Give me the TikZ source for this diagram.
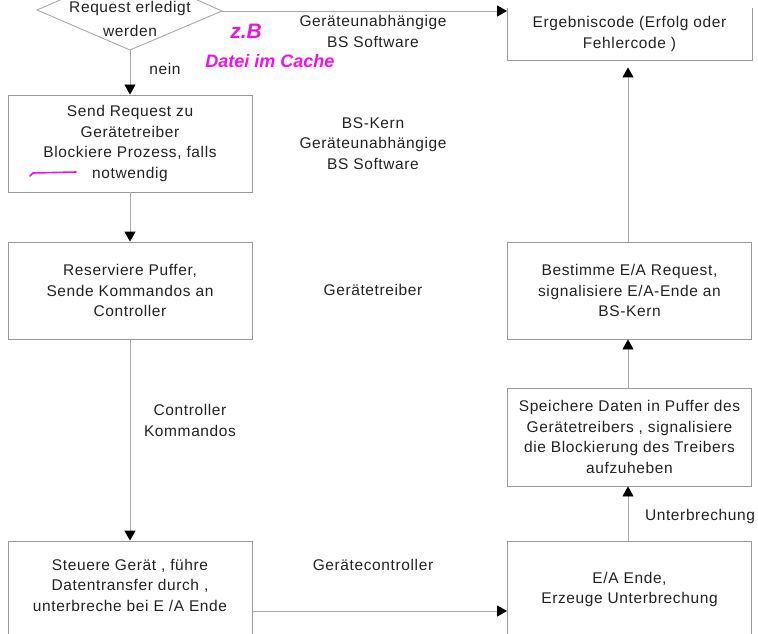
\documentclass[tikz,border=0pt]{standalone}
\usepackage{fontspec}
\setmainfont{Liberation Sans}[LetterSpace=4]
\newfontfamily\handfont{Liberation Sans}
\usetikzlibrary{arrows.meta,calc}
\definecolor{linec}{HTML}{A8A8A8}
\definecolor{boxc}{HTML}{999999}
\definecolor{txt}{HTML}{222222}
\definecolor{pen}{HTML}{F010E8}
\tikzset{
 box/.style={draw=boxc, line width=0.9pt, minimum width=244pt, inner sep=0pt, align=center, text=txt, font=\fontsize{15.5}{20.5}\selectfont},
 lbl/.style={align=center, text=txt, font=\fontsize{15.5}{20.5}\selectfont, inner sep=0pt},
 arr/.style={draw=linec, line width=0.9pt, -{Triangle[black,width=11pt,length=10pt]}},
 hand/.style={text=pen, font=\handfont\itshape\bfseries\fontsize{18}{18}\selectfont, inner sep=0pt},
}
\begin{document}
\begin{tikzpicture}[x=1pt,y=-1pt]
\useasboundingbox (0,0) rectangle (758,634);
\clip (0,0) rectangle (758,634);
% decision diamond (cut at top)
\coordinate (decL) at (37,10);
\coordinate (decB) at (130,50);
\coordinate (decR) at (222,11);
\coordinate (decT) at (130,-30);
\draw[draw=linec, line width=0.9pt] (decL) -- (decB) -- (decR) -- (decT) -- cycle;
\node[lbl, font=\fontsize{15.5}{24}\selectfont] (decText) at (130,19) {Request erledigt\\werden};
% left column
\node[box, minimum height=97pt] (send) at (130,143.5) {Send Request zu\\Gerätetreiber\\Blockiere Prozess, falls\\notwendig};
\node[box, minimum height=97pt] (reserve) at (130,290.5) {Reserviere Puffer,\\Sende Kommandos an\\Controller};
\node[box, minimum height=140pt] (steuere) at (130,611) {};
\node[lbl] (steuereT) at (130,585) {Steuere Gerät , führe\\Datentransfer durch ,\\unterbreche bei E /A Ende};
% right column
\node[box, draw=none, minimum height=52pt] (ergeb) at (629.5,34) {Ergebniscode (Erfolg oder\\Fehlercode )};
\draw[draw=boxc, line width=0.9pt] (ergeb.north west) -- (ergeb.south west) -- (ergeb.south east) -- (ergeb.north east);
\node[box, minimum height=97pt] (bestimme) at (629.5,290.5) {Bestimme E/A Request,\\signalisiere E/A-Ende an\\BS-Kern};
\node[box, minimum height=98pt] (speichere) at (629.5,437) {Speichere Daten in Puffer des\\Gerätetreibers , signalisiere\\die Blockierung des Treibers\\aufzuheben};
\node[box, minimum height=140pt] (eaende) at (629.5,611) {};
\node[lbl] (eaendeT) at (629.5,589.5) {E/A Ende,\\Erzeuge Unterbrechung};
% connectors
\draw[arr] (decB) -- (send.north);
\draw[arr] (decR) -- (decR -| ergeb.west);
\draw[arr] (send.south) -- (reserve.north);
\draw[arr] (reserve.south) -- (steuere.north);
\draw[arr] (steuere.east) -- (eaende.west);
\draw[arr] (eaende.north -| 628,0) -- (speichere.south -| 628,0);
\draw[arr] (speichere.north -| 628,0) -- (bestimme.south -| 628,0);
\draw[arr, shorten >=7pt] (bestimme.north -| 628,0) -- (ergeb.south -| 628,0);
% labels
\node[lbl] (nein) at (165,69) {nein};
\node[lbl] (ctrl) at (190,420.5) {Controller\\Kommandos};
\node[lbl] (unterbr) at (700,516) {Unterbrechung};
\node[lbl] (layer1) at (373,31.5) {Geräteunabhängige\\BS Software};
\node[lbl] (layer2) at (373,143.5) {BS-Kern\\Geräteunabhängige\\BS Software};
\node[lbl] (layer3) at (373,290) {Gerätetreiber};
\node[lbl] (layer4) at (373,565) {Gerätecontroller};
% handwritten annotation
\node[hand, font=\handfont\itshape\bfseries\fontsize{21}{21}\selectfont] (zb) at (246,31) {z.B};
\node[hand] (cache) at (270,61) {Datei im Cache};
\draw[pen, line width=1.6pt, line cap=round] (30,176) -- (33,173) -- (76,172);
\end{tikzpicture}
\end{document}
